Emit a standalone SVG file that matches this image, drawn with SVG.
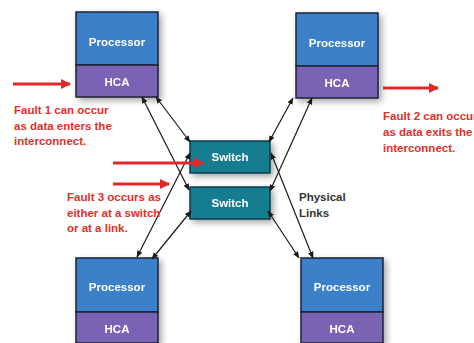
<svg xmlns="http://www.w3.org/2000/svg" width="474" height="343" viewBox="0 0 474 343">
<defs>
<style>
.proc{fill:#3b80c9;stroke:#1c2535;stroke-width:1.5}
.hca{fill:#7a62b4;stroke:#1c2535;stroke-width:1.5}
.sw{fill:#177d90;stroke:#0f3c48;stroke-width:1.5}
.wt{font-family:"Liberation Sans",Arial,sans-serif;font-weight:bold;font-size:11.5px;fill:#ffffff;text-anchor:middle}
.rt{font-family:"Liberation Sans",Arial,sans-serif;font-weight:bold;font-size:11.5px;fill:#e2302a}
.bt{font-family:"Liberation Sans",Arial,sans-serif;font-weight:bold;font-size:11.5px;fill:#333333}
.link{stroke:#1a1a1a;stroke-width:1.2;fill:none;marker-start:url(#ah);marker-end:url(#ah)}
.red{stroke:#e5262a;stroke-width:3;fill:none;marker-end:url(#rh)}
</style>
<marker id="ah" viewBox="0 0 10 10" refX="9" refY="5" markerWidth="7" markerHeight="7" markerUnits="userSpaceOnUse" orient="auto-start-reverse">
<path d="M0,1 L10,5 L0,9 Z" fill="#1a1a1a"/>
</marker>
<marker id="rh" viewBox="0 0 10 10" refX="9" refY="5" markerWidth="10" markerHeight="10" markerUnits="userSpaceOnUse" orient="auto">
<path d="M0,0 L10,5 L0,10 Z" fill="#e5262a"/>
</marker>
<filter id="sh" x="-20%" y="-20%" width="150%" height="150%">
<feDropShadow dx="3" dy="3" stdDeviation="3" flood-color="#000" flood-opacity="0.35"/>
</filter>
</defs>
<rect width="474" height="343" fill="#ffffff"/>

<g id="node-tl" filter="url(#sh)">
<rect class="proc" x="76" y="12" width="82" height="53"/>
<rect class="hca" x="76" y="65" width="82" height="32"/>
<text class="wt" x="117" y="46">Processor</text>
<text class="wt" x="117" y="86">HCA</text>
</g>
<g id="node-tr" filter="url(#sh)">
<rect class="proc" x="296" y="13" width="82" height="53"/>
<rect class="hca" x="296" y="66" width="82" height="32"/>
<text class="wt" x="337" y="47">Processor</text>
<text class="wt" x="337" y="87">HCA</text>
</g>
<g id="node-bl" filter="url(#sh)">
<rect class="proc" x="76" y="258" width="82" height="54"/>
<rect class="hca" x="76" y="312" width="82" height="31"/>
<text class="wt" x="117" y="291">Processor</text>
<text class="wt" x="117" y="333">HCA</text>
</g>
<g id="node-br" filter="url(#sh)">
<rect class="proc" x="301" y="258" width="82" height="54"/>
<rect class="hca" x="301" y="312" width="82" height="31"/>
<text class="wt" x="342" y="291">Processor</text>
<text class="wt" x="342" y="333">HCA</text>
</g>
<g id="switch-1" filter="url(#sh)">
<rect class="sw" x="190" y="141" width="80" height="32"/>
<text class="wt" x="230" y="161">Switch</text>
</g>
<g id="switch-2" filter="url(#sh)">
<rect class="sw" x="190" y="187" width="80" height="32"/>
<text class="wt" x="230" y="207">Switch</text>
</g>

<g id="connectors">
<line class="link" x1="156" y1="97" x2="190" y2="142"/>
<line class="link" x1="142" y1="97" x2="189" y2="190"/>
<line class="link" x1="190" y1="153" x2="137" y2="257"/>
<line class="link" x1="191" y1="211" x2="152" y2="259"/>
<line class="link" x1="293" y1="98" x2="269" y2="142"/>
<line class="link" x1="312" y1="98" x2="270" y2="191"/>
<line class="link" x1="271" y1="153" x2="313" y2="258"/>
<line class="link" x1="268" y1="211" x2="299" y2="258"/>
<line class="red" x1="13" y1="84" x2="70" y2="84"/>
<line class="red" x1="383" y1="88" x2="438" y2="88"/>
<line class="red" x1="113" y1="163" x2="203" y2="163"/>
<line class="red" x1="113" y1="184" x2="169" y2="184"/>
</g>

<g id="labels">
<text class="rt" x="14" y="114">Fault 1 can occur</text>
<text class="rt" x="14" y="130">as data enters the</text>
<text class="rt" x="14" y="145">interconnect.</text>
<text class="rt" x="383" y="120">Fault 2 can occur</text>
<text class="rt" x="383" y="136">as data exits the</text>
<text class="rt" x="383" y="152">interconnect.</text>
<text class="rt" x="67" y="201">Fault 3 occurs as</text>
<text class="rt" x="67" y="217">either at a switch</text>
<text class="rt" x="67" y="232">or at a link.</text>
<text class="bt" x="299" y="201">Physical</text>
<text class="bt" x="299" y="217">Links</text>
</g>
</svg>
